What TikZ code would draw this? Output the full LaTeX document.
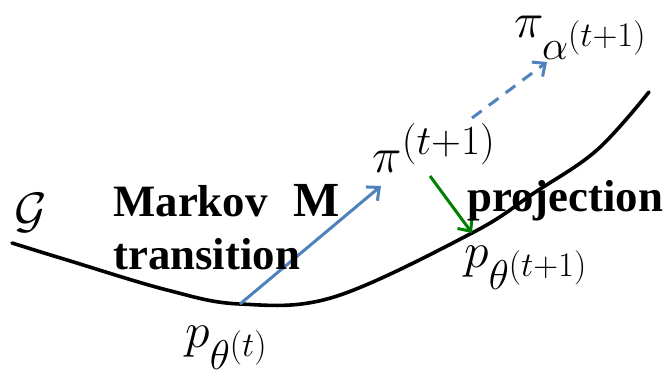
\documentclass[tikz,border=0pt]{standalone}
\usepackage{fontspec}
\newfontfamily\tnr{Liberation Serif}
\usetikzlibrary{arrows.meta}
\DeclareMathSizes{26}{26}{21}{18}
\DeclareMathSizes{40}{40}{28}{20}
\definecolor{arrowblue}{RGB}{79,129,189}
\definecolor{projgreen}{RGB}{0,128,0}
\begin{document}
\begin{tikzpicture}[x=0.5pt,y=-0.5pt,
  lbl/.style={inner sep=0pt, anchor=base west, font=\tnr\bfseries\fontsize{22.4}{26}\selectfont},
  mlbl/.style={inner sep=0pt, anchor=base west, font=\fontsize{26}{30}\selectfont},
  manifold/.style={line width=1.8pt, line cap=round},
  barb/.style={-{Straight Barb[length=5pt,width=9pt,line width=1.5pt]}},
  bluearrow/.style={barb, draw=arrowblue, line width=1.5pt},
  greenarrow/.style={barb, draw=projgreen, line width=1.5pt}]
\useasboundingbox (0,0) rectangle (668,378);
% manifold curve
\draw[manifold] plot[smooth, tension=0.6] coordinates {(12,243) (67,260) (167,290) (240,304) (334,297) (472,233) (534,193) (597,150) (649,92)};
% points
\coordinate (pt) at (240,304);
\coordinate (pi) at (381,186);
\coordinate (pistart) at (430,176);
\coordinate (pnew) at (472,233);
\coordinate (dashstart) at (472,118);
\coordinate (alphatip) at (547,62);
% arrows
\draw[bluearrow] (pt) -- (pi);
\draw[bluearrow, dash pattern=on 6pt off 4.5pt] (dashstart) -- (alphatip);
\draw[greenarrow] (pistart) -- (pnew);
% labels
\node[inner sep=0pt, font=\fontsize{40}{46}\selectfont] (G) at (31,213) {$\mathcal{G}$};
\node[lbl] (markov) at (113,217) {Markov};
\node[lbl, font=\tnr\bfseries\fontsize{24.5}{28}\selectfont] (M) at (293,217) {M};
\node[lbl] (transition) at (113,270) {transition};
\node[lbl] (projection) at (467,212) {projection};
\node[mlbl] (pilabel) at (372,173) {$\pi^{(t+1)}$};
\node[mlbl] (pialpha) at (514,38) {$\pi_{\alpha^{(t+1)}}$};
\node[mlbl] (pthetanew) at (464,268) {$p_{\theta^{(t+1)}}$};
\node[mlbl] (ptheta) at (185,348) {$p_{\theta^{(t)}}$};
\end{tikzpicture}
\end{document}
